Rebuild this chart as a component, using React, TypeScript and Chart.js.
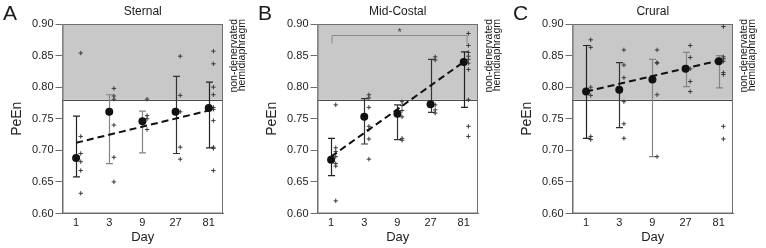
import React, { useEffect, useRef } from "react";
import { Chart, registerables } from "chart.js";
Chart.register(...registerables);

const days = ["1", "3", "9", "27", "81"];
const yTicks = [0.6, 0.65, 0.7, 0.75, 0.8, 0.85, 0.9];
const normalThreshold = 0.78;

// Sternal
const sternalMean = [0.688, 0.761, 0.746, 0.761, 0.767];
const sternalUpper = [0.754, 0.788, 0.762, 0.817, 0.808];
const sternalLower = [0.658, 0.679, 0.696, 0.695, 0.704];
const sternalTrend = [0.712, 0.763];
const sternalPoints = [
  [0.854, 0.722, 0.695, 0.682, 0.668, 0.632],
  [0.798, 0.786, 0.781, 0.74, 0.689, 0.65],
  [0.781, 0.755, 0.75, 0.733],
  [0.849, 0.787, 0.761, 0.705, 0.686],
  [0.857, 0.837, 0.8, 0.788, 0.768, 0.765, 0.747, 0.705, 0.703, 0.668],
];
const sternalBarColors = ["#222", "#858585", "#858585", "#333", "#222"];

// Mid-Costal
const costalMean = [0.685, 0.753, 0.758, 0.773, 0.84];
const costalUpper = [0.719, 0.782, 0.772, 0.844, 0.856];
const costalLower = [0.66, 0.71, 0.717, 0.76, 0.768];
const costalTrend = [0.69, 0.84];
const costalPoints = [
  [0.772, 0.704, 0.698, 0.69, 0.679, 0.675, 0.62],
  [0.788, 0.783, 0.768, 0.738, 0.733, 0.718, 0.686],
  [0.777, 0.771, 0.763, 0.753, 0.719, 0.716],
  [0.848, 0.843, 0.772, 0.764, 0.759],
  [0.885, 0.866, 0.855, 0.849, 0.844, 0.838, 0.828, 0.78, 0.738, 0.722],
];
const costalBarColors = ["#222", "#333", "#333", "#333", "#222"];

// Crural
const cruralMean = [0.793, 0.796, 0.812, 0.829, 0.841];
const cruralUpper = [0.866, 0.839, 0.844, 0.855, 0.85];
const cruralLower = [0.719, 0.736, 0.69, 0.801, 0.799];
const cruralTrend = [0.793, 0.842];
const cruralPoints = [
  [0.875, 0.863, 0.8, 0.787, 0.722, 0.717],
  [0.859, 0.835, 0.815, 0.777, 0.742, 0.719],
  [0.859, 0.839, 0.838, 0.788, 0.69],
  [0.866, 0.847, 0.829, 0.809, 0.793],
  [0.896, 0.848, 0.845, 0.841, 0.823, 0.82, 0.738, 0.718],
];
const cruralBarColors = ["#222", "#333", "#858585", "#858585", "#858585"];

// significance bracket (Mid-Costal, day 1 vs day 81)
const bracketTop = 0.883;
const bracketDrop = 0.869;

const FONT = "'Liberation Sans', Arial, Helvetica, sans-serif";

type PanelProps = {
  left: number;
  letter: string;
  title: string;
  mean: number[];
  upper: number[];
  lower: number[];
  trend: number[];
  points: number[][];
  barColors: string[];
  bracket?: boolean;
};

function Panel(p: PanelProps) {
  const ref = useRef<HTMLCanvasElement>(null);
  useEffect(() => {
    const canvas = ref.current!;
    const scatter = p.points.flatMap((vals, i) => vals.map((v) => ({ x: i + 0.14, y: v })));
    const means = p.mean.map((v, i) => ({ x: i, y: v }));
    const trend = [
      { x: 0, y: p.trend[0] },
      { x: days.length - 1, y: p.trend[1] },
    ];
    const decor = {
      id: "decor",
      beforeDatasetsDraw(chart: any) {
        const { ctx, chartArea: a, scales } = chart;
        const x = scales.x, y = scales.y;
        ctx.save();
        const yt = y.getPixelForValue(0.9);
        const yb = y.getPixelForValue(normalThreshold);
        ctx.fillStyle = "#c8c8c8";
        ctx.fillRect(a.left, yt, a.right - a.left, yb - yt);
        ctx.strokeStyle = "#4a4a4a";
        ctx.lineWidth = 1;
        ctx.beginPath();
        ctx.moveTo(a.left, Math.round(yb) + 0.5);
        ctx.lineTo(a.right, Math.round(yb) + 0.5);
        ctx.stroke();
        ctx.strokeStyle = "#6e6e6e";
        ctx.strokeRect(a.left + 0.5, a.top + 0.5, a.right - a.left - 1, a.bottom - a.top - 1);
        // error bars
        p.mean.forEach((_, i) => {
          const px = Math.round(x.getPixelForValue(i)) + 0.5;
          const pu = y.getPixelForValue(p.upper[i]);
          const pl = y.getPixelForValue(p.lower[i]);
          ctx.strokeStyle = p.barColors[i];
          ctx.lineWidth = 1.2;
          ctx.beginPath();
          ctx.moveTo(px, pu);
          ctx.lineTo(px, pl);
          ctx.moveTo(px - 3.5, pu);
          ctx.lineTo(px + 3.5, pu);
          ctx.moveTo(px - 3.5, pl);
          ctx.lineTo(px + 3.5, pl);
          ctx.stroke();
        });
        if (p.bracket) {
          const x0 = x.getPixelForValue(0.03);
          const x1 = x.getPixelForValue(4.1);
          const t = Math.round(y.getPixelForValue(bracketTop)) + 0.5;
          const d = y.getPixelForValue(bracketDrop);
          ctx.strokeStyle = "#8a8a8a";
          ctx.lineWidth = 1;
          ctx.beginPath();
          ctx.moveTo(x0, d);
          ctx.lineTo(x0, t);
          ctx.lineTo(x1, t);
          ctx.lineTo(x1, d);
          ctx.stroke();
          ctx.fillStyle = "#444";
          ctx.font = `11px ${FONT}`;
          ctx.textAlign = "center";
          ctx.textBaseline = "middle";
          ctx.fillText("*", (x0 + x1) / 2, t - 3);
        }
        ctx.restore();
      },
      afterDraw(chart: any) {
        const { ctx, chartArea: a } = chart;
        ctx.save();
        ctx.fillStyle = "#1a1a1a";
        ctx.textBaseline = "middle";
        ctx.font = `21px ${FONT}`;
        ctx.textAlign = "left";
        ctx.fillText(p.letter, 3, 14);
        ctx.font = `12px ${FONT}`;
        ctx.textAlign = "center";
        ctx.fillText(p.title, (a.left + a.right) / 2, 12);
        ctx.font = `10.5px ${FONT}`;
        ctx.textBaseline = "alphabetic";
        ctx.translate(a.right + 13.5, 19);
        ctx.rotate(-Math.PI / 2);
        ctx.textAlign = "right";
        ctx.fillText("non-denervated", 0, 0);
        ctx.fillText("hemidiaphragm", 0, 8.6);
        ctx.restore();
      },
    };
    const chart = new Chart(canvas, {
      type: "scatter",
      data: {
        datasets: [
          {
            type: "scatter",
            data: means,
            pointStyle: "circle",
            pointRadius: 4,
            backgroundColor: "#111",
            borderColor: "#111",
            borderWidth: 0,
            order: 0,
          },
          {
            type: "line",
            data: trend,
            borderColor: "#111",
            borderWidth: 2,
            borderDash: [7, 4],
            pointRadius: 0,
            fill: false,
            order: 1,
          },
          {
            type: "scatter",
            data: scatter,
            pointStyle: "cross",
            pointRadius: 2.2,
            borderColor: "#3a3a3a",
            borderWidth: 1,
            order: 2,
          },
        ],
      },
      options: {
        animation: false,
        responsive: false,
        layout: { padding: { top: 24, right: 32, left: 0, bottom: 0 } },
        plugins: { legend: { display: false }, tooltip: { enabled: false }, title: { display: false } },
        scales: {
          x: {
            type: "linear",
            min: -0.41,
            max: 4.43,
            afterBuildTicks: (s: any) => {
              s.ticks = days.map((_, i) => ({ value: i }));
            },
            afterFit: (s: any) => {
              s.height = 34.5;
            },
            ticks: {
              callback: (v: any) => days[v as number] ?? "",
              font: { family: FONT, size: 11 },
              color: "#222",
              padding: 3,
              maxRotation: 0,
            },
            grid: { display: false, drawTicks: false },
            border: { display: true, color: "#6e6e6e" },
            title: {
              display: true,
              text: "Day",
              font: { family: FONT, size: 13 },
              color: "#222",
              padding: { top: 0, bottom: 3 },
            },
          },
          y: {
            type: "linear",
            min: 0.6,
            max: 0.9,
            afterBuildTicks: (s: any) => {
              s.ticks = yTicks.map((v) => ({ value: v }));
            },
            afterFit: (s: any) => {
              s.width = 62.5;
            },
            ticks: {
              callback: (v: any) => Number(v).toFixed(2),
              font: { family: FONT, size: 11 },
              color: "#222",
              padding: 2,
            },
            grid: {
              display: true,
              drawOnChartArea: false,
              drawTicks: true,
              tickLength: 7,
              color: "#6e6e6e",
            },
            border: { display: true, color: "#6e6e6e" },
            title: {
              display: true,
              text: "PeEn",
              font: { family: FONT, size: 14 },
              color: "#222",
              padding: { top: 9, bottom: 0 },
            },
          },
        },
      },
      plugins: [decor],
    } as any);
    return () => chart.destroy();
  }, []);
  return (
    <canvas
      ref={ref}
      width={255}
      height={248}
      style={{ position: "absolute", left: p.left, top: 0, width: 255, height: 248 }}
    />
  );
}

export default function App() {
  return (
    <div style={{ position: "absolute", left: 0, top: 0, width: 766, height: 248, background: "#fff", overflow: "hidden" }}>
      <Panel
        left={0}
        letter="A"
        title="Sternal"
        mean={sternalMean}
        upper={sternalUpper}
        lower={sternalLower}
        trend={sternalTrend}
        points={sternalPoints}
        barColors={sternalBarColors}
      />
      <Panel
        left={255}
        letter="B"
        title="Mid-Costal"
        mean={costalMean}
        upper={costalUpper}
        lower={costalLower}
        trend={costalTrend}
        points={costalPoints}
        barColors={costalBarColors}
        bracket
      />
      <Panel
        left={510}
        letter="C"
        title="Crural"
        mean={cruralMean}
        upper={cruralUpper}
        lower={cruralLower}
        trend={cruralTrend}
        points={cruralPoints}
        barColors={cruralBarColors}
      />
    </div>
  );
}
